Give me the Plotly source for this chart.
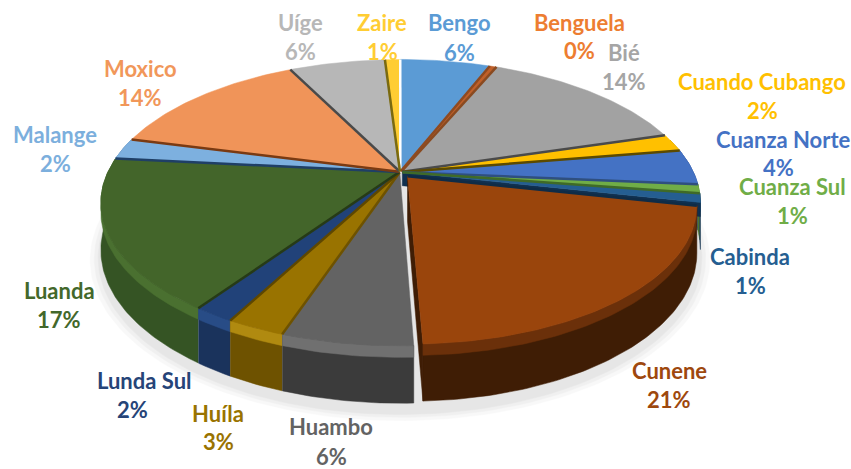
import numpy as np
import plotly.graph_objects as go

categories = ["Bengo", "Benguela", "Bié", "Cuando Cubango", "Cuanza Norte", "Cuanza Sul", "Cabinda", "Cunene",
              "Huambo", "Huíla", "Lunda Sul", "Luanda", "Malange", "Moxico", "Uíge", "Zaire"]
values = [6.0, 0.4, 14.0, 2.0, 4.0, 1.0, 1.0, 21.0, 5.8, 2.6, 1.8, 17.0, 2.4, 13.6, 6.4, 1.0]
top_colors = ["#5B9BD5", "#C0602A", "#A2A2A2", "#FFC000", "#4472C4", "#70AD47", "#255E91", "#9A450C",
              "#636363", "#997300", "#214279", "#43652A", "#7DB0DF", "#F09459", "#B7B7B7", "#FFCD33"]
wall_colors = ["#3F6C95", "#7A3A12", "#707070", "#A67D00", "#2E4F8A", "#4C7630", "#10304F", "#3F1D05",
               "#3B3B3B", "#6E5200", "#1A335C", "#355424", "#56799B", "#A96840", "#808080", "#B28F24"]
band_colors = ["#4F86B8", "#9A4E20", "#8A8A8A", "#D0A000", "#3A60A8", "#5E9239", "#183F62", "#6B300A",
               "#707070", "#B08A10", "#284C86", "#4A7030", "#6A97C0", "#CF7F4C", "#9A9A9A", "#D9AE2C"]
seam_colors = ["#FFFFFF", "#8F4A20", "#8A4A20", "#4A4A4A", "#5C4A00", "#2F4F7F", "#3F6A28", "#0F2C47",
               "#FFFFFF", "#6E5200", "#5E4700", "#263A17", "#1F3F66", "#7A3A12", "#4A4A4A", "#7A6A10"]
label_colors = ["#5B9BD5", "#ED7D31", "#A5A5A5", "#FFC000", "#4472C4", "#70AD47", "#255E91", "#9E480E",
                "#636363", "#997300", "#264478", "#43682B", "#7CAFDD", "#F1975A", "#B7B7B7", "#FFCD33"]
explode = [0.006, 0.006, 0.008, 0.008, 0.008, 0.008, 0.008, 0.040, 0.004, 0.004, 0.004, 0.004, 0.004, 0.004, 0.004, 0.004]
rim = [1, 1, 1, 1, 1, 1, 1, 0.965, 1, 1, 1, 1, 1, 1, 1, 1]

name_pos = [(459, 22), (579, 22), (624, 52), (762, 81), (783, 139), (792, 186), (750, 256), (669, 370),
            (331, 426), (218, 413), (144, 380), (59, 290), (55, 134), (140, 68), (300, 22), (382, 22)]
pct_pos = [(459, 52), (579, 50), (624, 81), (762, 110), (778, 167), (792, 215), (750, 285), (669, 399),
           (331, 456), (218, 441), (132, 409), (59, 319), (55, 163), (140, 97), (300, 51), (382, 51)]

CX, CY, A, B, K, H = 400, 172, 291, 136, 0.214, 45
EXPLODED = 7
BEFORE_EXPLODED = 6


def project(u, v, drop=0.0):
    d = 1 + K * v
    return CX + A * u / d, CY - B * v / d + drop * H / d


fig = go.Figure()


def poly(x, y, color, opacity=1.0):
    fig.add_trace(go.Scatter(x=x, y=y, mode="lines", fill="toself", fillcolor=color, opacity=opacity,
                             line=dict(color=color, width=0.5), hoverinfo="skip", showlegend=False))


# soft ground shadow
for grow, op in [(0.035, 0.05), (0.022, 0.06), (0.01, 0.08)]:
    t = np.linspace(0, 2 * np.pi, 240)
    sx, sy = project((1 + grow) * np.sin(t), (1 + grow) * np.cos(t) - 0.012, 1.12)
    poly(sx, sy, "#808080", op)

total = sum(values)
edges = np.cumsum([0] + values) / total * 2 * np.pi
slices = []
for i in range(len(values)):
    t0, t1 = edges[i], edges[i + 1]
    mid = (t0 + t1) / 2
    ox, oy = explode[i] * np.sin(mid), explode[i] * np.cos(mid)
    t = np.linspace(t0, t1, max(4, int((t1 - t0) * 60)))
    slices.append(dict(i=i, t=t, ox=ox, oy=oy, mid=mid, r=rim[i]))

# walls, back to front
for s in sorted(slices, key=lambda q: -np.cos(q["mid"])):
    i, t, ox, oy, r = s["i"], s["t"], s["ox"], s["oy"], s["r"]
    u, v = r * np.sin(t) + ox, r * np.cos(t) + oy
    if i == EXPLODED or i == BEFORE_EXPLODED:
        depth = 1 if i == EXPLODED else 0.3
        xa, ya = project(ox, oy)
        xb, yb = project(u[-1], v[-1])
        xc, yc = project(u[-1], v[-1], depth)
        xd, yd = project(ox, oy, depth)
        poly([xa, xb, xc, xd, xa], [ya, yb, yc, yd, ya], wall_colors[i])
    mask = np.cos(t) < 0.25
    if mask.sum() > 1:
        xt, yt = project(u[mask], v[mask])
        xb, yb = project(u[mask], v[mask], 1)
        poly(np.r_[xt, xb[::-1], xt[0]], np.r_[yt, yb[::-1], yt[0]], wall_colors[i])
        xm, ym = project(u[mask], v[mask], 0.2)
        poly(np.r_[xt, xm[::-1], xt[0]], np.r_[yt, ym[::-1], yt[0]], band_colors[i])

# top faces
for s in slices:
    i, t, ox, oy, r = s["i"], s["t"], s["ox"], s["oy"], s["r"]
    u, v = np.r_[ox, r * np.sin(t) + ox, ox], np.r_[oy, r * np.cos(t) + oy, oy]
    x, y = project(u, v)
    poly(x, y, top_colors[i])

# seams along each slice's leading edge
for s in slices:
    i, t, ox, oy, r = s["i"], s["t"], s["ox"], s["oy"], s["r"]
    if i == 8:
        continue
    xs, ys = project(np.array([ox, r * np.sin(t[0]) + ox]), np.array([oy, r * np.cos(t[0]) + oy]))
    fig.add_trace(go.Scatter(x=xs, y=ys, mode="lines", line=dict(color=seam_colors[i], width=2.5),
                             hoverinfo="skip", showlegend=False))

for i, name in enumerate(categories):
    for (px, py), txt in [(name_pos[i], name), (pct_pos[i], f"{round(values[i] / total * 100)}%")]:
        fig.add_annotation(x=px, y=py, text=f"<b>{txt}</b>", showarrow=False, xanchor="center", yanchor="middle",
                           font=dict(family="Lato", size=22, color=label_colors[i]))

fig.update_xaxes(range=[0, 851], visible=False, fixedrange=True)
fig.update_yaxes(range=[469, 0], visible=False, fixedrange=True)
fig.update_layout(width=851, height=469, margin=dict(l=0, r=0, t=0, b=0), paper_bgcolor="white",
                  plot_bgcolor="white", showlegend=False)
fig.write_html("out.html", config={"displayModeBar": False}, post_script="document.body.style.margin='0';")
